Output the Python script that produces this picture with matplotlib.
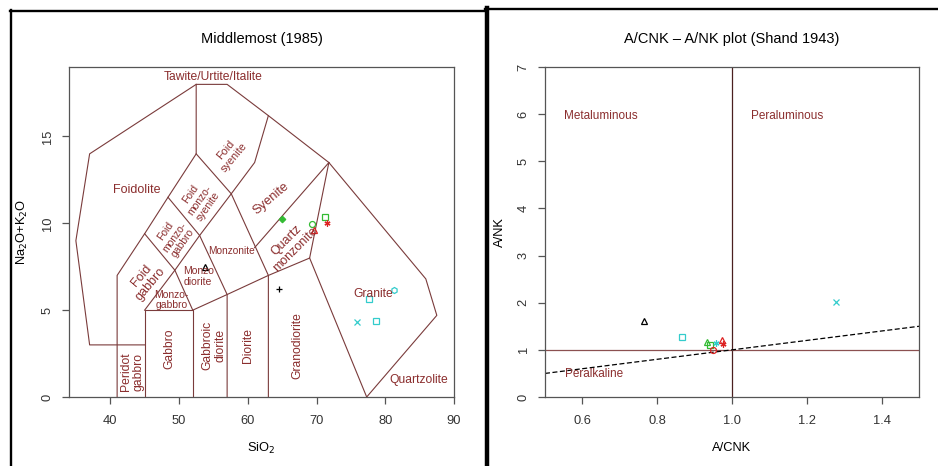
import matplotlib.pyplot as plt
from matplotlib.lines import Line2D

plt.rcParams['font.family'] = ['Liberation Sans', 'DejaVu Sans']

# ---- Amostras no diagrama TAS (Middlemost) ----
sio2 = [65.0, 69.4, 69.6, 71.2, 71.5, 53.85, 64.5, 77.65, 81.3, 75.96, 78.6]
alcalis = [10.24, 9.97, 9.6, 10.39, 10.04, 7.5, 6.23, 5.64, 6.16, 4.33, 4.37]
cores_tas = ['#33bb33', '#33bb33', '#dd2222', '#33bb33', '#dd2222', 'black', 'black',
             '#33cccc', '#33cccc', '#33cccc', '#33cccc']
marc_tas = ['D', 'o', '^', 's', (6, 2, 0), '^', '+', 's', 'h', 'x', 's']

# ---- Amostras no diagrama de Shand ----
acnk = [0.766, 0.867, 0.934, 0.94, 0.957, 0.972, 0.977, 0.95, 1.278]
ank = [1.615, 1.275, 1.17, 1.10, 1.15, 1.2, 1.13, 1.0, 2.02]
cores_shand = ['black', '#33cccc', '#33bb33', '#33bb33', '#33cccc', '#dd2222', '#dd2222',
               '#dd2222', '#33cccc']
marc_shand = ['^', 's', '^', 's', (6, 2, 0), '^', (6, 2, 0), 'o', 'x']

# limites dos campos (Middlemost)
contorno = [(45, 3), (37, 3), (35, 9), (37, 14), (52.5, 18), (57, 18), (63, 16.2),
            (71.8, 13.5), (85.9, 6.8), (87.5, 4.7), (77.3, 0)]
limites = [
    [(41, 0), (41, 7), (45, 9.4), (48.4, 11.5), (52.5, 14), (52.5, 18)],
    [(45, 0), (45, 5), (52, 5), (52, 0)],
    [(45, 5), (49.4, 7.3), (53, 9.3), (57.6, 11.7), (61, 13.5), (63, 16.2)],
    [(45, 9.4), (49.4, 7.3), (52, 5), (57, 5.9), (63, 7), (69, 8), (71.8, 13.5)],
    [(48.4, 11.5), (53, 9.3), (57, 5.9), (57, 0)],
    [(52.5, 14), (57.6, 11.7), (63, 7), (63, 0)],
    [(61, 8.6), (71.8, 13.5)],
    [(69, 8), (77.3, 0)],
    contorno,
]

# nomes dos campos: texto, x, y, rotacao, tamanho
nomes = [
    ('Tawite/Urtite/Italite', 54.9, 18.4, 0, 8.7),
    ('Foidolite', 43.8, 11.9, 0, 9),
    ('Foid\nsyenite', 57.4, 14.0, 50, 7.8),
    ('Foid\nmonzo-\nsyenite', 53.0, 11.35, 55, 7.5),
    ('Syenite', 63.4, 11.4, 40, 9.3),
    ('Foid\nmonzo-\ngabbro', 49.3, 9.2, 55, 7.5),
    ('Monzonite', 57.7, 8.42, 0, 7.3),
    ('Quartz\nmonzonite', 66.3, 8.75, 45, 9),
    ('Foid\ngabbro', 45.2, 6.73, 50, 9),
    ('Monzo\ndiorite', 52.8, 6.92, 0, 7.5),
    ('Monzo-\ngabbro', 48.9, 5.58, 0, 7.5),
    ('Granite', 78.2, 5.93, 0, 8.7),
    ('Peridot\ngabbro', 43.2, 1.45, 90, 8.7),
    ('Gabbro', 48.6, 2.8, 90, 8.7),
    ('Gabbroic\ndiorite', 55.1, 2.98, 90, 8.7),
    ('Diorite', 60.0, 2.98, 90, 8.7),
    ('Granodiorite', 67.2, 2.98, 90, 8.7),
    ('Quartzolite', 84.9, 0.96, 0, 8.7),
]

cor_campo = '#7a3b3b'
cor_nome = '#8b2e2e'
cor_eixo = '#555555'

fig = plt.figure(figsize=(9.38, 4.66), dpi=100)
ax1 = fig.add_axes([69 / 938, 1 - 397 / 466, 385 / 938, 330 / 466])
ax2 = fig.add_axes([545 / 938, 1 - 397 / 466, 374 / 938, 330 / 466])

for ax in (ax1, ax2):
    for s in ax.spines.values():
        s.set_color(cor_eixo)
        s.set_linewidth(0.9)
    ax.tick_params(direction='out', length=5, width=0.9, color=cor_eixo,
                   labelcolor='#333333', labelsize=9.3)
    ax.tick_params(axis='x', pad=8)
    ax.tick_params(axis='y', pad=6)

# ---- Painel esquerdo: Middlemost ----
for lim in limites:
    ax1.plot([p[0] for p in lim], [p[1] for p in lim], color=cor_campo, lw=0.8)

for txt, x, y, rot, tam in nomes:
    ax1.text(x, y, txt, rotation=rot, fontsize=tam, color=cor_nome,
             ha='center', va='center', multialignment='center', linespacing=1.1,
             rotation_mode='anchor')

for x, y, c, m in zip(sio2, alcalis, cores_tas, marc_tas):
    filled = m == 'D'
    ax1.plot(x, y, marker=m, color=c, ms=3.3 if filled else 4.3,
             mfc=c if filled else 'none', mew=0.9)

ax1.set_xlim(34, 90)
ax1.set_ylim(0, 19)
ax1.set_xticks([40, 50, 60, 70, 80, 90])
ax1.set_yticks([0, 5, 10, 15])
ax1.set_yticklabels(['0', '5', '10', '15'], rotation=90, va='center')
ax1.set_title('Middlemost (1985)', fontsize=10.5, y=1.085, pad=0, va='center')
ax1.set_xlabel('SiO$_2$', fontsize=9.3)
ax1.xaxis.set_label_coords(0.5, -0.155)
ax1.xaxis.label.set_va('center')
ax1.set_ylabel('Na$_2$O+K$_2$O', fontsize=9.3)
ax1.yaxis.set_label_coords(-0.122, 0.5)
ax1.yaxis.label.set_va('center')

# ---- Painel direito: Shand ----
ax2.plot([1, 1], [0, 7], color='#4a2020', lw=0.9)
ax2.plot([0.5, 1.5], [1, 1], color='#8b5050', lw=0.9)
ax2.plot([0.5, 1.5], [0.5, 1.5], color='black', lw=0.9, ls='--', dashes=(4, 2))

for x, y, c, m in zip(acnk, ank, cores_shand, marc_shand):
    ax2.plot(x, y, marker=m, color=c, ms=4.3, mfc='none', mew=0.9)

ax2.text(0.551, 5.97, 'Metaluminous', fontsize=8.5, color=cor_nome, ha='left', va='center')
ax2.text(1.052, 5.97, 'Peraluminous', fontsize=8.5, color=cor_nome, ha='left', va='center')
ax2.text(0.553, 0.48, 'Peralkaline', fontsize=8.5, color=cor_nome, ha='left', va='center')

ax2.set_xlim(0.5, 1.5)
ax2.set_ylim(0, 7)
ax2.set_xticks([0.6, 0.8, 1.0, 1.2, 1.4])
ax2.set_xticklabels(['0.6', '0.8', '1.0', '1.2', '1.4'])
ax2.set_yticks(range(8))
ax2.set_yticklabels([str(i) for i in range(8)], rotation=90, va='center')
ax2.set_title('A/CNK – A/NK plot (Shand 1943)', fontsize=10.5, y=1.085, pad=0, va='center')
ax2.set_xlabel('A/CNK', fontsize=9.3)
ax2.xaxis.set_label_coords(0.5, -0.155)
ax2.xaxis.label.set_va('center')
ax2.set_ylabel('A/NK', fontsize=9.3)
ax2.yaxis.set_label_coords(-0.12, 0.5)
ax2.yaxis.label.set_va('center')

# molduras pretas da montagem
fig.add_artist(Line2D([11 / 938, 11 / 938], [1 - 10 / 466, 0], transform=fig.transFigure,
                      color='black', lw=1.7))
fig.add_artist(Line2D([10 / 938, 487 / 938], [1 - 11 / 466, 1 - 11 / 466],
                      transform=fig.transFigure, color='black', lw=1.7))
fig.add_artist(Line2D([487 / 938, 487 / 938], [1 - 8 / 466, 0], transform=fig.transFigure,
                      color='black', lw=3.2))
fig.add_artist(Line2D([485 / 938, 1], [1 - 9 / 466, 1 - 9 / 466], transform=fig.transFigure,
                      color='black', lw=1.7))

fig.savefig('out.png', dpi=100)
